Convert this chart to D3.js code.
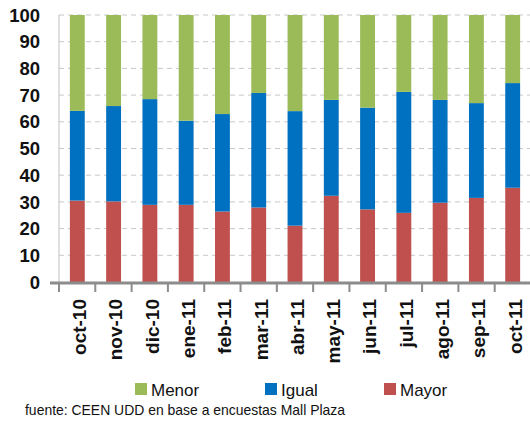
<!DOCTYPE html>
<html><head><meta charset="utf-8">
<script src="https://cdn.jsdelivr.net/npm/d3@7"></script>
<style>body{margin:0;background:#fff}svg{display:block}</style>
</head><body>
<svg id="c" width="530" height="421"></svg>
<script>
const categories = ["oct-10","nov-10","dic-10","ene-11","feb-11","mar-11","abr-11","may-11","jun-11","jul-11","ago-11","sep-11","oct-11"];
const mayor = [30.5,30.2,28.9,28.9,26.4,27.9,21.1,32.3,27.2,25.9,29.7,31.5,35.3];
const igual = [33.6,35.7,39.6,31.5,36.5,42.9,42.9,35.9,38.1,45.3,38.5,35.5,39.2];
const menor = [35.9,34.1,31.5,39.6,37.1,29.2,36.0,31.8,34.7,28.8,31.8,33.0,25.5];
const yTicks = [0,10,20,30,40,50,60,70,80,90,100];
const seriesNames = ["Mayor","Igual","Menor"];
const legendOrder = ["Menor","Igual","Mayor"];
const colors = {Mayor:"#C0504D", Igual:"#0070C0", Menor:"#9BBB59"};
const source = "fuente: CEEN UDD en base a encuestas Mall Plaza";

const svg = d3.select("#c");
const L = 59, R = 531, T = 15, B = 282;
const x = d3.scaleBand().domain(categories).range([L, R]).paddingInner(0.59).paddingOuter(0.3);
const y = d3.scaleLinear().domain([0,100]).range([B, T]);

const rows = categories.map((c,i)=>({cat:c, Mayor:mayor[i], Igual:igual[i], Menor:menor[i]}));
const stacked = d3.stack().keys(seriesNames)(rows);

// gridlines
svg.append("g").selectAll("line").data(yTicks.filter(d=>d>0)).join("line")
  .attr("x1", L).attr("x2", R).attr("y1", d=>y(d)).attr("y2", d=>y(d))
  .attr("stroke", "#c8c8c8").attr("stroke-width", 1).attr("stroke-dasharray", "5,4");

// y axis line
svg.append("line").attr("x1", L).attr("x2", L).attr("y1", T).attr("y2", B)
  .attr("stroke", "#bfbfbf").attr("stroke-width", 1);

// bars
svg.append("g").selectAll("g").data(stacked).join("g")
  .attr("fill", d=>colors[d.key])
  .selectAll("rect").data(d=>d).join("rect")
  .attr("x", d=>x(d.data.cat)).attr("width", x.bandwidth())
  .attr("y", d=>y(d[1])).attr("height", d=>y(d[0])-y(d[1]));

// y labels
svg.append("g").selectAll("text").data(yTicks).join("text")
  .attr("x", 40).attr("y", d=>y(d)).attr("dy", "0.36em")
  .attr("text-anchor", "end")
  .attr("font-family", "Liberation Sans, Arial, sans-serif").attr("font-weight", "bold")
  .attr("font-size", 18.5).attr("fill", "#111")
  .text(d=>d);

// x axis
const tickXs = d3.range(categories.length + 1).map(i => L + i*(R-L)/categories.length);
svg.append("line").attr("x1", 50).attr("x2", R).attr("y1", B+1).attr("y2", B+1)
  .attr("stroke", "#8c8c8c").attr("stroke-width", 3);
svg.append("g").selectAll("line").data(tickXs).join("line")
  .attr("x1", d=>d).attr("x2", d=>d).attr("y1", B+1).attr("y2", B+10)
  .attr("stroke", "#8c8c8c").attr("stroke-width", 2);

svg.append("g").selectAll("text").data(categories).join("text")
  .attr("transform", d=>`translate(${x(d)+x.bandwidth()/2+2},299) rotate(-90)`)
  .attr("text-anchor", "end").attr("dy", "0.36em")
  .attr("font-family", "Liberation Sans, Arial, sans-serif").attr("font-weight", "bold")
  .attr("font-size", 19).attr("fill", "#111")
  .text(d=>d);

// legend
const legX = {Menor:135, Igual:265, Mayor:384};
const lg = svg.append("g").selectAll("g").data(legendOrder).join("g")
  .attr("transform", d=>`translate(${legX[d]},383)`);
lg.append("rect").attr("width", 12).attr("height", 12).attr("fill", d=>colors[d]);
lg.append("text").attr("x", 16).attr("y", 12.5)
  .attr("font-family", "Liberation Sans, Arial, sans-serif").attr("font-size", 17).attr("fill", "#111")
  .text(d=>d);

svg.append("text").attr("x", 25).attr("y", 415)
  .attr("font-family", "Liberation Sans Narrow, Liberation Sans, Arial, sans-serif").attr("font-size", 15)
  .attr("textLength", 320).attr("lengthAdjust", "spacingAndGlyphs").attr("fill", "#111")
  .text(source);
</script>
</body></html>
